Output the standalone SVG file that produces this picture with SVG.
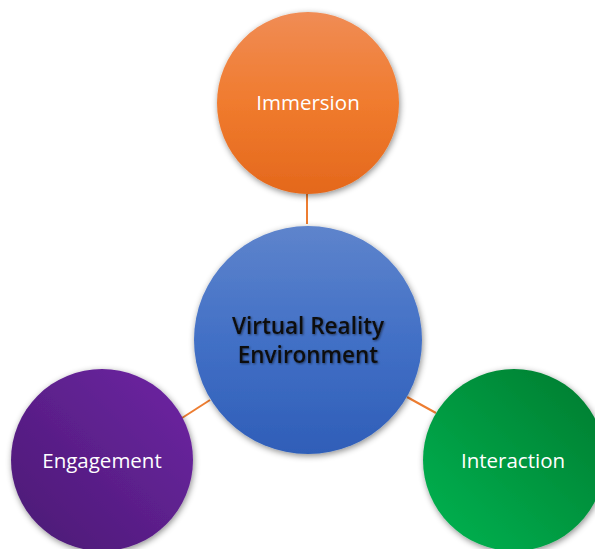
<svg xmlns="http://www.w3.org/2000/svg" width="595" height="549" viewBox="0 0 595 549">
<defs>
<style>
.lbl{font-family:"Open Sans","Liberation Sans",sans-serif;font-size:20.5px;fill:#ffffff;text-anchor:middle}
.ctr{font-family:"Open Sans","Liberation Sans",sans-serif;font-size:22.5px;fill:#111111;text-anchor:middle;font-weight:600}
.conn{stroke:#ED7D31;stroke-width:2;fill:none}
</style>
<filter id="sh" x="-20%" y="-20%" width="140%" height="140%">
<feDropShadow dx="1" dy="2" stdDeviation="3" flood-color="#000" flood-opacity="0.45"/>
</filter>
<filter id="tsh" x="-10%" y="-30%" width="120%" height="160%">
<feDropShadow dx="1" dy="1" stdDeviation="0.8" flood-color="#000" flood-opacity="0.5"/>
</filter>
<linearGradient id="gOr" x1="0" y1="0" x2="0" y2="1">
<stop offset="0" stop-color="#F08C55"/>
<stop offset="0.5" stop-color="#F07B2E"/>
<stop offset="1" stop-color="#E4681C"/>
</linearGradient>
<linearGradient id="gBl" x1="0" y1="0" x2="0" y2="1">
<stop offset="0" stop-color="#5E84CC"/>
<stop offset="0.5" stop-color="#4270C6"/>
<stop offset="1" stop-color="#2F5EB8"/>
</linearGradient>
<linearGradient id="gPu" x1="1" y1="0" x2="0" y2="1">
<stop offset="0" stop-color="#6E26A4"/>
<stop offset="1" stop-color="#4A1973"/>
</linearGradient>
<linearGradient id="gGr" x1="1" y1="0" x2="0" y2="1">
<stop offset="0" stop-color="#007A2E"/>
<stop offset="1" stop-color="#00B552"/>
</linearGradient>
</defs>
<rect width="595" height="549" fill="#ffffff"/>
<g id="connectors">
<line class="conn" x1="307" y1="194" x2="307" y2="224"/>
<line class="conn" x1="182" y1="418" x2="210" y2="400"/>
<line class="conn" x1="407" y1="397" x2="436" y2="413"/>
</g>
<g id="immersion">
<circle cx="308" cy="103" r="91" fill="url(#gOr)" filter="url(#sh)"/>
<text class="lbl" x="308" y="110">Immersion</text>
</g>
<g id="vre">
<circle cx="308" cy="340" r="114" fill="url(#gBl)" filter="url(#sh)"/>
<text class="ctr" x="308" y="334" filter="url(#tsh)">Virtual Reality</text>
<text class="ctr" x="308" y="363" filter="url(#tsh)">Environment</text>
</g>
<g id="engagement">
<circle cx="102" cy="460" r="91" fill="url(#gPu)" filter="url(#sh)"/>
<text class="lbl" x="102" y="468">Engagement</text>
</g>
<g id="interaction">
<circle cx="514" cy="460" r="91" fill="url(#gGr)" filter="url(#sh)"/>
<text class="lbl" x="513" y="468">Interaction</text>
</g>
</svg>
